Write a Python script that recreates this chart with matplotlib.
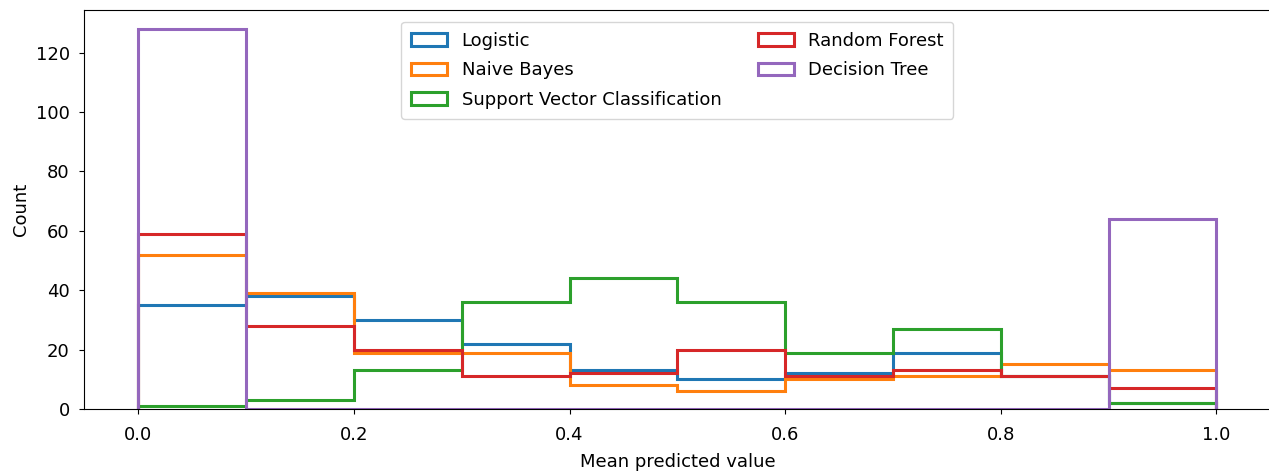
#
# calibration histogram - counts of mean predicted value per classifier
#

import numpy as np
import matplotlib
matplotlib.use("Agg")
import matplotlib.pyplot as plt

plt.rcParams['font.family'] = ['DejaVu Sans']
plt.rcParams['font.size'] = 13

# przedzialy predykcji (10 binow po 0.1)
bin_edges = np.linspace(0.0, 1.0, 11)
bin_centers = (bin_edges[:-1] + bin_edges[1:]) / 2

# liczebnosci w binach
logistic      = [35, 38, 30, 22, 13, 10, 12, 19, 11, 2]
naive_bayes   = [52, 39, 19, 19, 8, 6, 10, 11, 15, 13]
svc           = [1, 3, 13, 36, 44, 36, 19, 27, 11, 2]
random_forest = [59, 28, 20, 11, 12, 20, 11, 13, 11, 7]
decision_tree = [128, 0, 0, 0, 0, 0, 0, 0, 0, 64]

names = ["Logistic", "Naive Bayes", "Support Vector Classification",
         "Random Forest", "Decision Tree"]
series = [logistic, naive_bayes, svc, random_forest, decision_tree]

fig = plt.figure(figsize=(12.69, 4.75), dpi=100)
ax = fig.add_axes([0.0665, 0.139, 0.9345, 0.840])

for name, counts in zip(names, series):
    ax.hist(bin_centers, bins=bin_edges, weights=counts, histtype='step',
            lw=2.2, label=name)

# oryginal jest przyciety - prawej krawedzi osi nie widac
ax.spines['right'].set_visible(False)

ax.tick_params(axis='x', pad=9)
ax.tick_params(axis='y', pad=7)
ax.set_xlabel("Mean predicted value", labelpad=6)
ax.set_ylabel("Count")
ax.legend(loc="upper center", ncol=2, labelspacing=0.65, borderpad=0.55,
          borderaxespad=0.65)

plt.savefig("out.png", dpi=100)
